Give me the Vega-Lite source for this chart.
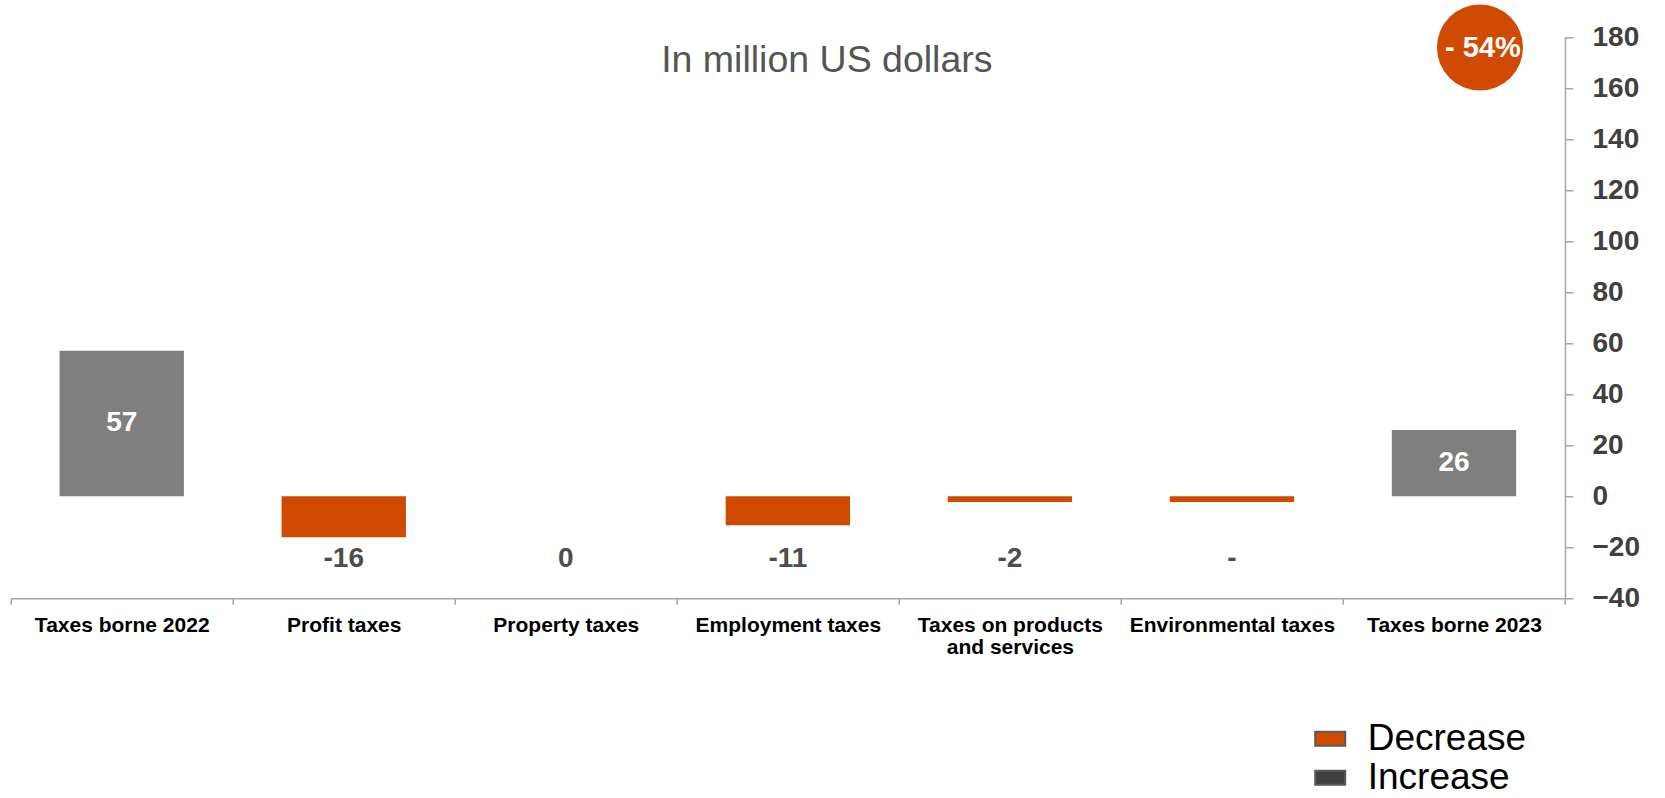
{
  "$schema": "https://vega.github.io/schema/vega-lite/v6.json",
  "width": 1554.3,
  "height": 561,
  "autosize": {"type": "none"},
  "padding": {"left": 10.7, "top": 37.3, "right": 100, "bottom": 199.7},
  "background": "white",
  "config": {"font": "Liberation Sans", "view": {"stroke": null}},
  "data": {
    "values": [
      {"category": "Taxes borne 2022", "value": 57.1, "type": "Total", "label": "57"},
      {"category": "Profit taxes", "value": -16.1, "type": "Decrease", "label": "-16"},
      {"category": "Property taxes", "value": 0, "type": "Decrease", "label": "0"},
      {"category": "Employment taxes", "value": -11.4, "type": "Decrease", "label": "-11"},
      {"category": "Taxes on products and services", "value": -2.2, "type": "Decrease", "label": "-2"},
      {"category": "Environmental taxes", "value": -2.2, "type": "Decrease", "label": "-"},
      {"category": "Taxes borne 2023", "value": 26, "type": "Total", "label": "26"}
    ]
  },
  "layer": [
    {
      "layer": [
        {
          "mark": {"type": "bar", "width": {"band": 0.56}},
          "encoding": {
            "x": {
              "field": "category",
              "type": "nominal",
              "sort": null,
              "scale": {
                "domain": ["Taxes borne 2022", "Profit taxes", "Property taxes", "Employment taxes", "Taxes on products and services", "Environmental taxes", "Taxes borne 2023"],
                "paddingInner": 0,
                "paddingOuter": 0
              },
              "axis": {
                "title": null,
                "labelAngle": 0,
                "tickBand": "extent",
                "domainColor": "#A6A6A6",
                "tickColor": "#A6A6A6",
                "tickSize": 6,
                "domainWidth": 1.5,
                "tickWidth": 1.5,
                "labelFontSize": 21,
                "labelFontWeight": "bold",
                "labelColor": "#000000",
                "labelPadding": 10,
                "labelLineHeight": 22,
                "labelBaseline": "top",
                "labelLimit": 400,
                "labelOverlap": false,
                "labelExpr": "datum.label == 'Taxes on products and services' ? ['Taxes on products', 'and services'] : datum.label"
              }
            },
            "y": {
              "field": "value",
              "type": "quantitative",
              "scale": {"domain": [-40, 180], "nice": false},
              "axis": {
                "orient": "right",
                "title": null,
                "values": [-40, -20, 0, 20, 40, 60, 80, 100, 120, 140, 160, 180],
                "grid": false,
                "domainColor": "#A6A6A6",
                "tickColor": "#A6A6A6",
                "tickSize": 8,
                "domainWidth": 1.5,
                "tickWidth": 1.5,
                "labelFontSize": 28,
                "labelFontWeight": "bold",
                "labelColor": "#404040",
                "labelPadding": 19,
                "labelFlush": false
              }
            },
            "y2": {"datum": 0},
            "color": {
              "field": "type",
              "type": "nominal",
              "scale": {"domain": ["Decrease", "Increase", "Total"], "range": ["#D04A02", "#404040", "#7F7F7F"]},
              "legend": {
                "orient": "none",
                "legendX": 1301,
                "legendY": 683,
                "title": null,
                "values": ["Decrease", "Increase"],
                "symbolType": "M-1,-0.467H1V0.467H-1Z",
                "symbolSize": 900,
                "symbolStrokeColor": "#595959",
                "symbolStrokeWidth": 2,
                "symbolOpacity": 1,
                "labelFontSize": 37,
                "labelColor": "#000000",
                "labelOffset": 19,
                "labelLimit": 400,
                "rowPadding": 1
              }
            }
          }
        },
        {
          "transform": [{"filter": "datum.type != 'Total'"}],
          "mark": {"type": "text", "fontSize": 28, "fontWeight": "bold", "color": "#4D4D4D", "baseline": "middle"},
          "encoding": {
            "x": {"field": "category", "type": "nominal", "sort": null},
            "y": {"datum": -24.5},
            "text": {"field": "label"}
          }
        },
        {
          "data": {"values": [{"category": "Employment taxes", "caption": "In million US dollars"}]},
          "mark": {"type": "text", "fontSize": 37.5, "fontWeight": "normal", "color": "#555555", "baseline": "alphabetic", "align": "center", "dx": 39},
          "encoding": {
            "x": {"field": "category", "type": "nominal", "sort": null},
            "y": {"datum": 166.3},
            "text": {"field": "caption"}
          }
        },
        {
          "data": {"values": [{"category": "Taxes borne 2023", "badge": "- 54%"}]},
          "mark": {"type": "point", "shape": "circle", "filled": true, "size": 7400, "color": "#D04A02", "opacity": 1, "xOffset": 26},
          "encoding": {
            "x": {"field": "category", "type": "nominal", "sort": null},
            "y": {"datum": 176}
          }
        },
        {
          "data": {"values": [{"category": "Taxes borne 2023", "badge": "- 54%"}]},
          "mark": {"type": "text", "fontSize": 29, "fontWeight": "bold", "color": "#FFFFFF", "baseline": "middle", "dx": 29},
          "encoding": {
            "x": {"field": "category", "type": "nominal", "sort": null},
            "y": {"datum": 176},
            "text": {"field": "badge"}
          }
        }
      ]
    },
    {
      "transform": [{"filter": "datum.type == 'Total'"}],
      "mark": {"type": "text", "fontSize": 28, "fontWeight": "bold", "color": "#FFFFFF", "baseline": "middle"},
      "encoding": {
        "x": {"field": "category", "type": "nominal", "sort": null},
        "y": {"field": "value", "type": "quantitative", "scale": {"domain": [-80, 360], "nice": false}, "axis": null},
        "text": {"field": "label"}
      }
    }
  ],
  "resolve": {"scale": {"y": "independent"}}
}
